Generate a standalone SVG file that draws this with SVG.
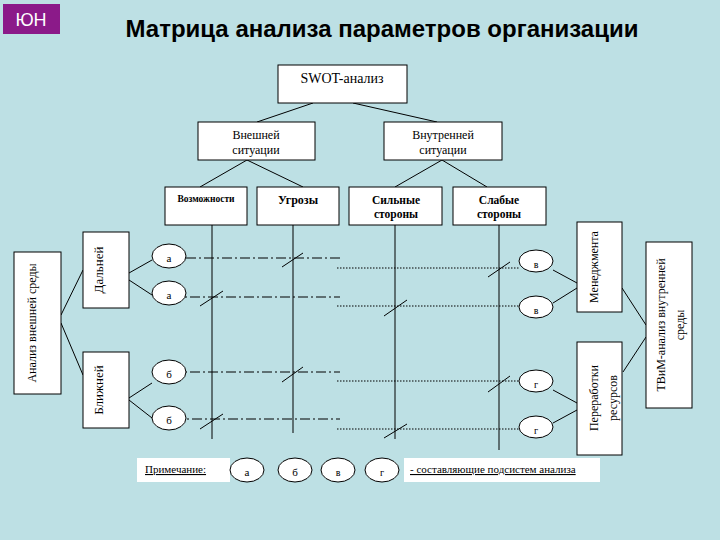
<svg xmlns="http://www.w3.org/2000/svg" width="720" height="540" viewBox="0 0 720 540">
<style>
.bx{fill:#fff;stroke:#000;stroke-width:1}
.el{fill:#fff;stroke:#000;stroke-width:1}
.ln{stroke:#000;stroke-width:1;fill:none}
.dd{stroke:#000;stroke-width:1;fill:none;stroke-dasharray:10 3 2 3}
.dt{stroke:#000;stroke-width:1;fill:none;stroke-dasharray:1.5 1.5}
.t{font-family:"Liberation Serif","DejaVu Serif",serif;fill:#000;text-anchor:middle}
.tb{font-family:"Liberation Serif","DejaVu Serif",serif;fill:#000;text-anchor:middle;font-weight:bold}
.u{text-decoration:underline}
</style>
<rect width="720" height="540" fill="#bde0e4"/>
<g id="badge"><rect x="3" y="4" width="57" height="30" fill="#8b1a89"/><text x="31" y="26" font-family="Liberation Sans,Arial,sans-serif" font-size="18" fill="#fff" text-anchor="middle">ЮН</text></g>
<text id="title" x="382" y="37" font-family="Liberation Sans,Arial,sans-serif" font-size="24" font-weight="bold" text-anchor="middle">Матрица анализа параметров организации</text>

<g id="connectors">
<path class="ln" d="M313,103 L257,122 M353,103 L437,122"/>
<path class="ln" d="M247,160 L200,187 M247,160 L303,187 M442,160 L395,187 M442,160 L487,187"/>
<path class="ln" d="M212,225 V439 M293,225 V433 M395,225 V439 M499,225 V450"/>
<path class="ln" d="M61,315 L83,270 M61,323 L83,375"/>
<path class="ln" d="M129,273 L152,260 M129,280 L152,295 M129,398 L152,383 M129,400 L152,418"/>
<path class="ln" d="M553,270 L577,283 M553,303 L577,288 M553,390 L577,403 M553,423 L577,410"/>
<path class="ln" d="M622,288 L646,325 M623,372 L646,337"/>
<path class="dd" d="M186,258 H340 M172,297 H340 M172,372 H340 M174,419 H340"/>
<path class="dt" d="M337,268 H519 M337,306 H519 M337,381 H519 M337,429 H519"/>
<path class="ln" d="M282,267 L303,253 M200,306 L223,291 M282,382 L303,367 M200,429 L223,414"/>
<path class="ln" d="M488,277 L510,262 M384,316 L407,300 M488,392 L510,376 M384,438 L407,424"/>
</g>

<g id="swot"><rect class="bx" x="278" y="65" width="129" height="38"/><text class="t" x="342" y="83" font-size="14">SWOT-анализ</text></g>
<g id="ext"><rect class="bx" x="198" y="122" width="117" height="38"/><text class="t" x="256" y="139" font-size="12">Внешней</text><text class="t" x="256" y="154" font-size="12">ситуации</text></g>
<g id="int"><rect class="bx" x="384" y="122" width="118" height="38"/><text class="t" x="443" y="139" font-size="12">Внутренней</text><text class="t" x="443" y="154" font-size="12">ситуации</text></g>

<g id="opp"><rect class="bx" x="165" y="187" width="82" height="38"/><text class="tb" x="206" y="202" font-size="9.5">Возможности</text></g>
<g id="thr"><rect class="bx" x="257" y="187" width="82" height="38"/><text class="tb" x="298" y="204" font-size="12">Угрозы</text></g>
<g id="str"><rect class="bx" x="349" y="187" width="93" height="38"/><text class="tb" x="396" y="204" font-size="11.5">Сильные</text><text class="tb" x="396" y="218" font-size="11.5">стороны</text></g>
<g id="weak"><rect class="bx" x="453" y="187" width="93" height="38"/><text class="tb" x="499" y="204" font-size="11.5">Слабые</text><text class="tb" x="499" y="218" font-size="11.5">стороны</text></g>

<g id="extenv"><rect class="bx" x="14" y="252" width="47" height="142"/><text class="t" font-size="12" transform="translate(36,323) rotate(-90)">Анализ внешней среды</text></g>
<g id="far"><rect class="bx" x="83" y="232" width="46" height="76"/><text class="t" font-size="13" transform="translate(103,270) rotate(-90)">Дальней</text></g>
<g id="near"><rect class="bx" x="83" y="352" width="46" height="76"/><text class="t" font-size="13" transform="translate(103,390) rotate(-90)">Ближней</text></g>

<g id="ea1"><ellipse class="el" cx="169" cy="256" rx="17" ry="12"/><text class="t" x="169" y="262" font-size="11">а</text></g>
<g id="ea2"><ellipse class="el" cx="169" cy="293" rx="17" ry="12"/><text class="t" x="169" y="299" font-size="11">а</text></g>
<g id="eb1"><ellipse class="el" cx="169" cy="372" rx="17" ry="12"/><text class="t" x="169" y="378" font-size="11">б</text></g>
<g id="eb2"><ellipse class="el" cx="169" cy="418" rx="17" ry="12"/><text class="t" x="169" y="424" font-size="11">б</text></g>

<g id="ev1"><ellipse class="el" cx="536" cy="261" rx="17" ry="11"/><text class="t" x="536" y="268" font-size="10">в</text></g>
<g id="ev2"><ellipse class="el" cx="536" cy="307" rx="17" ry="11"/><text class="t" x="536" y="314" font-size="10">в</text></g>
<g id="eg1"><ellipse class="el" cx="536" cy="381" rx="17" ry="11"/><text class="t" x="536" y="388" font-size="10">г</text></g>
<g id="eg2"><ellipse class="el" cx="536" cy="427" rx="17" ry="11"/><text class="t" x="536" y="434" font-size="10">г</text></g>

<g id="mgmt"><rect class="bx" x="577" y="222" width="45" height="90"/><text class="t" font-size="12" transform="translate(598,267) rotate(-90)">Менеджмента</text></g>
<g id="proc"><rect class="bx" x="577" y="342" width="45" height="113"/><text class="t" font-size="12" transform="translate(598,398) rotate(-90)">Переработки</text><text class="t" font-size="12" transform="translate(617,398) rotate(-90)">ресурсов</text></g>
<g id="intenv"><rect class="bx" x="646" y="242" width="46" height="166"/><text class="t" font-size="12" transform="translate(665,325) rotate(-90)">ТВиМ-анализ внутренней</text><text class="t" font-size="12" transform="translate(684,325) rotate(-90)">среды</text></g>

<g id="note">
<rect x="137" y="458" width="93" height="24" fill="#fff"/>
<text class="t u" x="145" y="473" font-size="11" text-anchor="start" style="text-anchor:start">Примечание:</text>
<ellipse class="el" cx="247" cy="470" rx="17" ry="12"/><text class="t" x="247" y="476" font-size="11">а</text>
<ellipse class="el" cx="295" cy="470" rx="17" ry="12"/><text class="t" x="295" y="476" font-size="11">б</text>
<ellipse class="el" cx="338" cy="470" rx="17" ry="12"/><text class="t" x="338" y="476" font-size="10">в</text>
<ellipse class="el" cx="382" cy="470" rx="17" ry="12"/><text class="t" x="382" y="476" font-size="10">г</text>
<rect x="404" y="458" width="196" height="24" fill="#fff"/>
<text class="t u" x="410" y="473" font-size="11" style="text-anchor:start">- составляющие подсистем анализа</text>
</g>
</svg>
